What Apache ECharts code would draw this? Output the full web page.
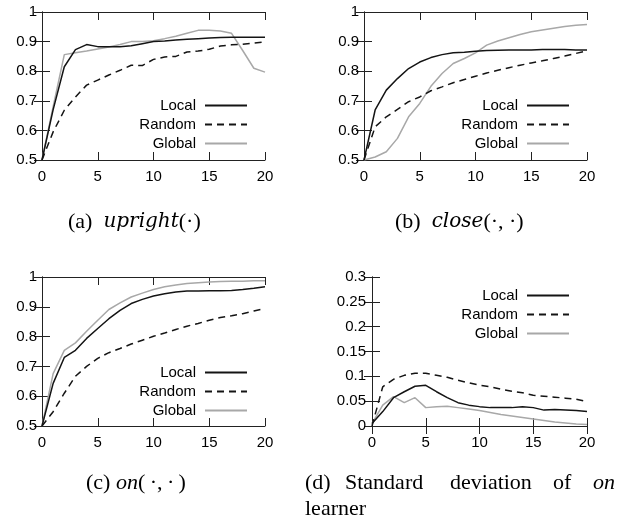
<!DOCTYPE html>
<html><head><meta charset="utf-8">
<script src="https://cdn.jsdelivr.net/npm/echarts@6/dist/echarts.min.js"></script>
<style>html,body{margin:0;padding:0;background:#fff}#c{width:630px;height:520px}</style>
</head><body><div id="c"></div>
<script>
// ---- data ----
const xSteps = [0,1,2,3,4,5,6,7,8,9,10,11,12,13,14,15,16,17,18,19,20];
const seriesNames = ['Local','Random','Global'];

const uprightLocal  = [0.5,0.67,0.815,0.873,0.89,0.883,0.883,0.883,0.886,0.893,0.9,0.902,0.905,0.908,0.91,0.912,0.914,0.915,0.915,0.915,0.915];
const uprightRandom = [0.5,0.595,0.668,0.713,0.753,0.77,0.787,0.803,0.82,0.819,0.84,0.848,0.85,0.865,0.868,0.874,0.885,0.889,0.891,0.895,0.899];
const uprightGlobal = [0.5,0.68,0.856,0.862,0.868,0.875,0.882,0.89,0.9,0.9,0.903,0.91,0.918,0.928,0.938,0.938,0.936,0.928,0.87,0.81,0.797];

const closeLocal  = [0.5,0.669,0.736,0.775,0.809,0.831,0.846,0.856,0.862,0.864,0.867,0.87,0.871,0.872,0.872,0.872,0.873,0.873,0.873,0.872,0.872];
const closeRandom = [0.5,0.612,0.646,0.671,0.697,0.713,0.734,0.747,0.761,0.772,0.783,0.794,0.803,0.812,0.82,0.828,0.835,0.843,0.851,0.86,0.869];
const closeGlobal = [0.5,0.51,0.528,0.573,0.646,0.691,0.749,0.792,0.826,0.843,0.862,0.888,0.902,0.913,0.924,0.933,0.939,0.945,0.951,0.955,0.958];

const onLocal  = [0.5,0.643,0.73,0.754,0.794,0.827,0.86,0.888,0.911,0.925,0.936,0.944,0.95,0.953,0.953,0.954,0.954,0.955,0.958,0.962,0.967];
const onRandom = [0.5,0.548,0.61,0.667,0.7,0.727,0.746,0.76,0.775,0.788,0.801,0.812,0.824,0.835,0.844,0.855,0.864,0.87,0.877,0.886,0.894];
const onGlobal = [0.5,0.676,0.754,0.779,0.818,0.855,0.891,0.913,0.933,0.946,0.958,0.967,0.973,0.978,0.981,0.983,0.985,0.986,0.986,0.987,0.987];

const sdLocal  = [0.005,0.029,0.057,0.069,0.08,0.082,0.069,0.057,0.047,0.042,0.039,0.037,0.037,0.037,0.039,0.037,0.032,0.033,0.032,0.031,0.029];
const sdRandom = [0.0,0.079,0.094,0.102,0.106,0.106,0.102,0.098,0.092,0.087,0.082,0.079,0.074,0.07,0.067,0.062,0.06,0.058,0.056,0.054,0.049];
const sdGlobal = [0.005,0.042,0.059,0.047,0.057,0.037,0.039,0.04,0.037,0.034,0.031,0.027,0.023,0.02,0.017,0.014,0.011,0.008,0.006,0.004,0.003];

const xTickRange = [0, 20, 5];
const accTickRange = [0.5, 1, 0.1];
const sdTickRange = [0, 0.3, 0.05];

// ---- layout / style ----
const panels = [
  {grid:{left:42,top:12,width:223,height:148}, yr:accTickRange, data:[uprightLocal,uprightRandom,uprightGlobal], legend:{right:382,top:98}, lm:5},
  {grid:{left:364,top:12,width:223,height:148}, yr:accTickRange, data:[closeLocal,closeRandom,closeGlobal], legend:{right:60,top:98}, lm:5},
  {grid:{left:42,top:277,width:223,height:149}, yr:accTickRange, data:[onLocal,onRandom,onGlobal], legend:{right:382,top:365}, lm:5},
  {grid:{left:372,top:277,width:215,height:149}, yr:sdTickRange, data:[sdLocal,sdRandom,sdGlobal], legend:{right:60,top:288}, lm:6}
];
const lineStyles = [
  {color:'#141414', width:1.5, type:'solid'},
  {color:'#141414', width:1.5, type:[7,5]},
  {color:'#a8a8a8', width:1.5, type:'solid'}
];
const axisFont = {fontFamily:'Liberation Sans, Arial, sans-serif', fontSize:15, color:'#000'};
const frame = {show:true, lineStyle:{color:'#222', width:1}};
const tick = {show:true, inside:true, length:8, lineStyle:{color:'#222', width:1}};

const option = {animation:false, backgroundColor:'#fff', grid:[], xAxis:[], yAxis:[], series:[], legend:[], graphic:[]};

panels.forEach((p,i)=>{
  option.grid.push(Object.assign({containLabel:false}, p.grid));
  const xi = option.xAxis.length, yi = option.yAxis.length;
  ['bottom','top'].forEach((pos,k)=>{
    option.xAxis.push({type:'value', gridIndex:i, position:pos, min:xTickRange[0], max:xTickRange[1], interval:xTickRange[2],
      axisLine:frame, axisTick:tick, splitLine:{show:false},
      axisLabel:Object.assign({show:k===0, margin:9}, axisFont)});
  });
  ['left','right'].forEach((pos,k)=>{
    option.yAxis.push({type:'value', gridIndex:i, position:pos, min:p.yr[0], max:p.yr[1], interval:p.yr[2],
      axisLine:frame, axisTick:tick, splitLine:{show:false},
      axisLabel:Object.assign({show:k===0, margin:p.lm}, axisFont)});
  });
  seriesNames.forEach((n,k)=>{
    option.series.push({name:n, type:'line', xAxisIndex:xi, yAxisIndex:yi, symbol:'none', showSymbol:false,
      lineStyle:lineStyles[k], itemStyle:{color:lineStyles[k].color}, z: k===2?1:2,
      data:xSteps.map((x,j)=>[x,p.data[k][j]])});
  });
  option.legend.push({data:seriesNames, orient:'vertical', align:'right', right:p.legend.right, top:p.legend.top,
    padding:0, itemWidth:42, itemHeight:14, itemGap:4, selectedMode:false,
    itemStyle:{opacity:0, color:'rgba(0,0,0,0)', borderColor:'rgba(0,0,0,0)', borderWidth:0},
    textStyle:{fontFamily:'Liberation Sans, Arial, sans-serif', fontSize:15, color:'#000', width:70, padding:[0,4,0,0]}});
});

const roman = {fontFamily:'Liberation Serif, Times New Roman, serif', fontSize:22, color:'#000'};
const mathIt = {fontFamily:'DejaVu Serif, serif', fontStyle:'italic', fontSize:20, color:'#000'};
const timesIt = {fontFamily:'Liberation Serif, serif', fontStyle:'italic', fontSize:22, color:'#000'};
function cap(x,y,text,rich){
  return {type:'text', x:x, y:y, style:{text:text, rich:rich, fill:'#000', verticalAlign:'middle',
    fontFamily:'Liberation Serif, serif', fontSize:22}};
}
option.graphic = [
  cap(68,222,'{r|(a)}  {m|upright}{r|(·)}', {r:roman, m:mathIt}),
  cap(395,222,'{r|(b)}  {m|close}{r|(·, ·)}', {r:roman, m:mathIt}),
  cap(86,483,'{r|(c)} {t|on}{r|(\u2009·,\u2009·\u2009)}', {r:roman, t:timesIt}),
  cap(305,483,'{r|(d)}', {r:roman}),
  cap(345,483,'{r|Standard}', {r:roman}),
  cap(450,483,'{r|deviation}', {r:roman}),
  cap(553,483,'{r|of}', {r:roman}),
  cap(593,483,'{t|on}', {t:timesIt}),
  cap(305,509,'{r|learner}', {r:roman})
];

const chart = echarts.init(document.getElementById('c'), null, {renderer:'canvas'});
chart.setOption(option);
</script></body></html>
